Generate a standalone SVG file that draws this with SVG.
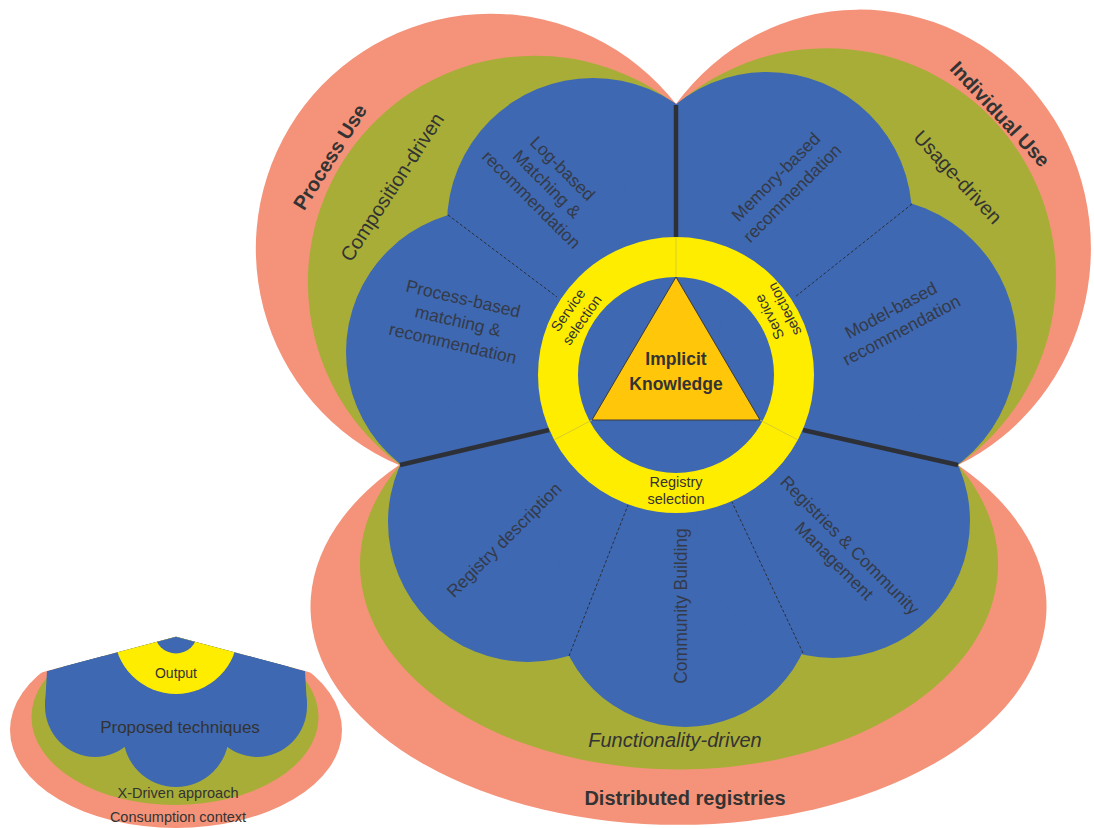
<svg xmlns="http://www.w3.org/2000/svg" width="1094" height="828" viewBox="0 0 1094 828">
<defs>
<style>
.salmon{fill:#F4937A}
.olive{fill:#A8AD37}
.blue{fill:#3E68B1}
.t{font-family:"Liberation Sans",Arial,sans-serif;fill:#333333;text-anchor:middle}
.pl{font-size:17.5px;fill:#343A48}
.lobe{font-size:20px}
.b{font-weight:bold}
.it{font-style:italic}
.ring{font-size:14.5px}
.dash{stroke:#2A3040;stroke-width:1;stroke-dasharray:3,2;fill:none}
.thick{stroke:#2E3038;stroke-width:4.5;fill:none}
.div{stroke:#CFC436;stroke-width:0.8}
</style>
<clipPath id="wedge"><polygon points="176,636.7 0,683.5 0,828 352,828 352,683.5"/></clipPath>
</defs>
<rect width="1094" height="828" fill="#ffffff"/>

<g id="context-layer">
  <path class="salmon" d="M676,104 A235,235 0 1 0 399,465 L676,375 Z"/>
  <path class="salmon" d="M958,465 A231,239 0 1 0 676,104 L676,375 Z"/>
  <path class="salmon" d="M399,465 A368,218 0 1 0 958,465 L676,375 Z"/>
</g>
<g id="approach-layer">
  <path class="olive" d="M676,105 A226.85,226.85 0 1 0 400,465 L676,375 Z"/>
  <path class="olive" d="M958,465 A229,229 0 1 0 676,105 L676,375 Z"/>
  <path class="olive" d="M400,465 A319,205 0 1 0 958,465 L676,375 Z"/>
</g>
<g id="petal-shapes">
  <polygon class="blue" points="676,105 448,215 400,465 569,656 803,653 958,465 912,204"/>
  <circle class="blue" cx="593" cy="224" r="146"/>
  <circle class="blue" cx="767" cy="217" r="145"/>
  <circle class="blue" cx="489" cy="352" r="143"/>
  <circle class="blue" cx="868" cy="346" r="149"/>
  <circle class="blue" cx="528" cy="522" r="140"/>
  <circle class="blue" cx="685" cy="597" r="130"/>
  <circle class="blue" cx="833" cy="521" r="137"/>
</g>

<g id="connectors">
  <line class="dash" x1="448" y1="215" x2="557" y2="297"/>
  <line class="dash" x1="912" y1="204" x2="795" y2="297"/>
  <line class="dash" x1="569" y1="656" x2="628" y2="505"/>
  <line class="dash" x1="803" y1="653" x2="732" y2="502"/>
  <line class="thick" x1="676" y1="105" x2="676" y2="239"/>
  <line class="thick" x1="400" y1="465" x2="549" y2="430"/>
  <line class="thick" x1="958" y1="465" x2="803" y2="430"/>
</g>

<g id="ring">
  <circle cx="676" cy="375" r="118" fill="none" stroke="#FFED00" stroke-width="40"/>
  <line class="div" x1="676" y1="237" x2="676" y2="277"/>
  <line class="div" x1="592" y1="420" x2="554" y2="440"/>
  <line class="div" x1="760" y1="420" x2="798" y2="440"/>
  <g transform="translate(575,315) rotate(-55)"><text class="t ring" y="-3.5">Service</text><text class="t ring" y="13.5">selection</text></g>
  <g transform="translate(777,313) rotate(-117)"><text class="t ring" y="-3.5">Service</text><text class="t ring" y="13.5">selection</text></g>
  <text class="t ring" x="676" y="487">Registry</text>
  <text class="t ring" x="676" y="503.5">selection</text>
</g>

<g id="implicit-knowledge">
  <polygon points="676,277 592,420 760,420" fill="#FFC60A" stroke="#3A3A3A" stroke-width="1"/>
  <text class="t b" font-size="17.5" x="676" y="365">Implicit</text>
  <text class="t b" font-size="17.5" x="676" y="390">Knowledge</text>
</g>

<g id="node-process-use"><text class="t b lobe" transform="translate(330,157) rotate(-58)" y="7">Process Use</text></g>
<g id="node-composition-driven"><text class="t lobe" transform="translate(392,187) rotate(-57)" y="7">Composition-driven</text></g>
<g id="node-individual-use"><text class="t b lobe" transform="translate(1000,114) rotate(47)" y="7">Individual Use</text></g>
<g id="node-usage-driven"><text class="t lobe" transform="translate(958,177) rotate(47)" y="7">Usage-driven</text></g>
<g id="node-functionality-driven"><text class="t lobe it" x="675" y="747">Functionality-driven</text></g>
<g id="node-distributed-registries"><text class="t b lobe" x="685" y="805">Distributed registries</text></g>

<g id="node-log-based" transform="translate(547,184) rotate(45)">
  <text class="t pl" y="-16">Log-based</text><text class="t pl" y="6">Matching &amp;</text><text class="t pl" y="28">recommendation</text>
</g>
<g id="node-memory-based" transform="translate(784,185) rotate(-45)">
  <text class="t pl" y="-5.5">Memory-based</text><text class="t pl" y="17.5">recommendation</text>
</g>
<g id="node-process-based" transform="translate(458,321) rotate(13)">
  <text class="t pl" y="-17">Process-based</text><text class="t pl" y="6">matching &amp;</text><text class="t pl" y="29">recommendation</text>
</g>
<g id="node-model-based" transform="translate(896,320) rotate(-28)">
  <text class="t pl" y="-5">Model-based</text><text class="t pl" y="17.5">recommendation</text>
</g>
<g id="node-registry-description" transform="translate(504,540) rotate(-45)">
  <text class="t pl" y="6">Registry description</text>
</g>
<g id="node-community-building" transform="translate(681,606) rotate(-90)">
  <text class="t pl" y="6">Community Building</text>
</g>
<g id="node-registries-community" transform="translate(842,553) rotate(45)">
  <text class="t pl" y="-5">Registries &amp; Community</text><text class="t pl" y="17">Management</text>
</g>

<g id="legend">
  <g clip-path="url(#wedge)">
    <ellipse class="salmon" cx="176" cy="730" rx="166" ry="98"/>
    <ellipse class="olive" cx="175" cy="717" rx="143.5" ry="88"/>
    <polygon class="blue" points="176,636 47,671 45,706 126,742 226,742 307,706 305,671"/>
    <ellipse class="blue" cx="95" cy="706" rx="50" ry="51"/>
    <ellipse class="blue" cx="257" cy="706" rx="50" ry="51"/>
    <circle class="blue" cx="176" cy="734" r="53"/>
    <circle cx="176" cy="632" r="62" fill="#FFED00"/>
    <circle class="blue" cx="176" cy="632" r="21.5"/>
  </g>
  <text class="t" font-size="14" x="176" y="678">Output</text>
  <text class="t" font-size="17" x="180" y="733" fill="#343A48">Proposed techniques</text>
  <text class="t" font-size="14.5" x="178" y="798">X-Driven approach</text>
  <text class="t" font-size="14.5" x="178" y="822">Consumption context</text>
</g>
</svg>
